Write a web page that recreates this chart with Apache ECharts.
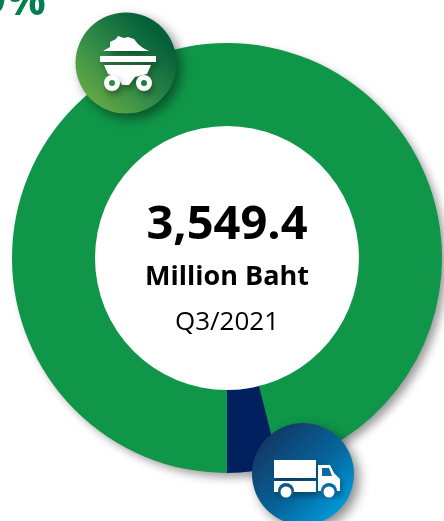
<!DOCTYPE html>
<html><head><meta charset="utf-8">
<style>html,body{margin:0;padding:0;background:#fff}#c{width:444px;height:521px}</style>
<script src="https://cdn.jsdelivr.net/npm/echarts@6/dist/echarts.min.js"></script>
</head><body><div id="c"></div>
<script>
const categories = ['Coal', 'Logistics'];
const shareValues = [96.1, 3.9];
const sliceColors = ['#0f9648', '#002060'];
const totalLabel = '3,549.4';
const unitLabel = 'Million Baht';
const periodLabel = 'Q3/2021';
const cornerLabel = '9%';

const chart = echarts.init(document.getElementById('c'), null, {renderer:'canvas'});
const cx = 227, cy = 258, rOuter = 215, rInner = 132;
const white = {fill:'#fff'};
const iconShadow = {shadowBlur:6, shadowOffsetX:2, shadowOffsetY:4, shadowColor:'rgba(0,0,0,0.35)'};
const Z = 10;
const withZ = list => list.map(e => ({z:Z, ...e}));

function coalIcon(){
  return withZ([
    {type:'circle', shape:{cx:126,cy:63,r:50.5}, style:{
      fill:new echarts.graphic.LinearGradient(0,1,1,0,[{offset:0,color:'#7cb544'},{offset:0.45,color:'#2f8a47'},{offset:0.8,color:'#03603a'},{offset:1,color:'#035c38'}]),
      shadowBlur:12, shadowOffsetX:5, shadowOffsetY:5, shadowColor:'rgba(0,0,0,0.45)'}},
    {type:'polygon', shape:{points:[[103,51],[110,47],[110,42],[116,39],[118,36],[124,38],[128,37],[134,39],[138,44],[143,48],[149,51]]}, style:{...white,...iconShadow}},
    {type:'rect', shape:{x:100,y:56,width:56,height:6}, style:{...white,...iconShadow}},
    {type:'polygon', shape:{points:[[104,65],[151,65],[147,74],[135,77],[129,85],[122,85],[117,77],[108,74]]}, style:{...white,...iconShadow}},
    {type:'circle', shape:{cx:112,cy:83,r:8}, style:{...white,...iconShadow}},
    {type:'circle', z:Z+1, shape:{cx:112,cy:83,r:3}, style:{fill:'#2f8a47'}},
    {type:'circle', shape:{cx:144,cy:83,r:8}, style:{...white,...iconShadow}},
    {type:'circle', z:Z+1, shape:{cx:144,cy:83,r:3}, style:{fill:'#1f7a44'}}
  ]);
}
function truckIcon(){
  return withZ([
    {type:'circle', shape:{cx:303,cy:474,r:51}, style:{
      fill:new echarts.graphic.LinearGradient(0,0,1,1,[{offset:0,color:'#12305e'},{offset:0.15,color:'#123a68'},{offset:0.55,color:'#05669c'},{offset:0.85,color:'#0197d6'},{offset:1,color:'#01aeea'}]),
      shadowBlur:12, shadowOffsetX:5, shadowOffsetY:5, shadowColor:'rgba(0,0,0,0.45)'}},
    {type:'rect', shape:{x:274,y:460,width:42,height:18}, style:{...white,...iconShadow}},
    {type:'rect', shape:{x:274,y:481,width:42,height:11}, style:{...white,...iconShadow}},
    {type:'polygon', shape:{points:[[318,465],[330,465],[334,473],[340,479],[340,491],[318,491]]}, style:{...white,...iconShadow}},
    {type:'polygon', z:Z+1, shape:{points:[[322,468],[329,468],[332,476],[322,476]]}, style:{fill:'#0a6ba3'}},
    {type:'circle', z:Z+1, shape:{cx:286,cy:491,r:8}, style:{fill:'#0c5a8e'}},
    {type:'circle', z:Z+2, shape:{cx:286,cy:492,r:5.5}, style:white},
    {type:'circle', z:Z+1, shape:{cx:329,cy:491,r:8}, style:{fill:'#0a6ba3'}},
    {type:'circle', z:Z+2, shape:{cx:329,cy:492,r:5.5}, style:white}
  ]);
}
const font = '"Open Sans", sans-serif';
function centerText(text, y, size, weight){
  return {type:'text', z:Z, x:cx, y, style:{text, fill:'#000', font:`${weight} ${size}px ${font}`, textAlign:'center', textVerticalAlign:'middle'}};
}
chart.setOption({
  animation:false,
  backgroundColor:'#fff',
  series:[{
    type:'pie', z:2, center:[cx,cy], radius:[rInner,rOuter], startAngle:270, clockwise:true,
    silent:true, label:{show:false}, labelLine:{show:false},
    data:categories.map((name,i)=>({name, value:shareValues[i], itemStyle:{color:sliceColors[i]}}))
  }],
  graphic:[
    {type:'circle', z:1, shape:{cx,cy,r:rOuter-1}, style:{fill:sliceColors[0], shadowBlur:10, shadowOffsetX:5, shadowOffsetY:5, shadowColor:'rgba(0,0,0,0.4)'}},
    {type:'circle', z:3, shape:{cx,cy,r:rInner}, style:white},
    {type:'text', z:Z, x:-19, y:-20, style:{text:cornerLabel, fill:'#00804f', font:`bold 44px ${font}`}},
    centerText(totalLabel, 226, 47, 'bold'),
    centerText(unitLabel, 277, 27, 'bold'),
    centerText(periodLabel, 323, 26, 'normal'),
    ...coalIcon(), ...truckIcon()
  ]
});
</script></body></html>
